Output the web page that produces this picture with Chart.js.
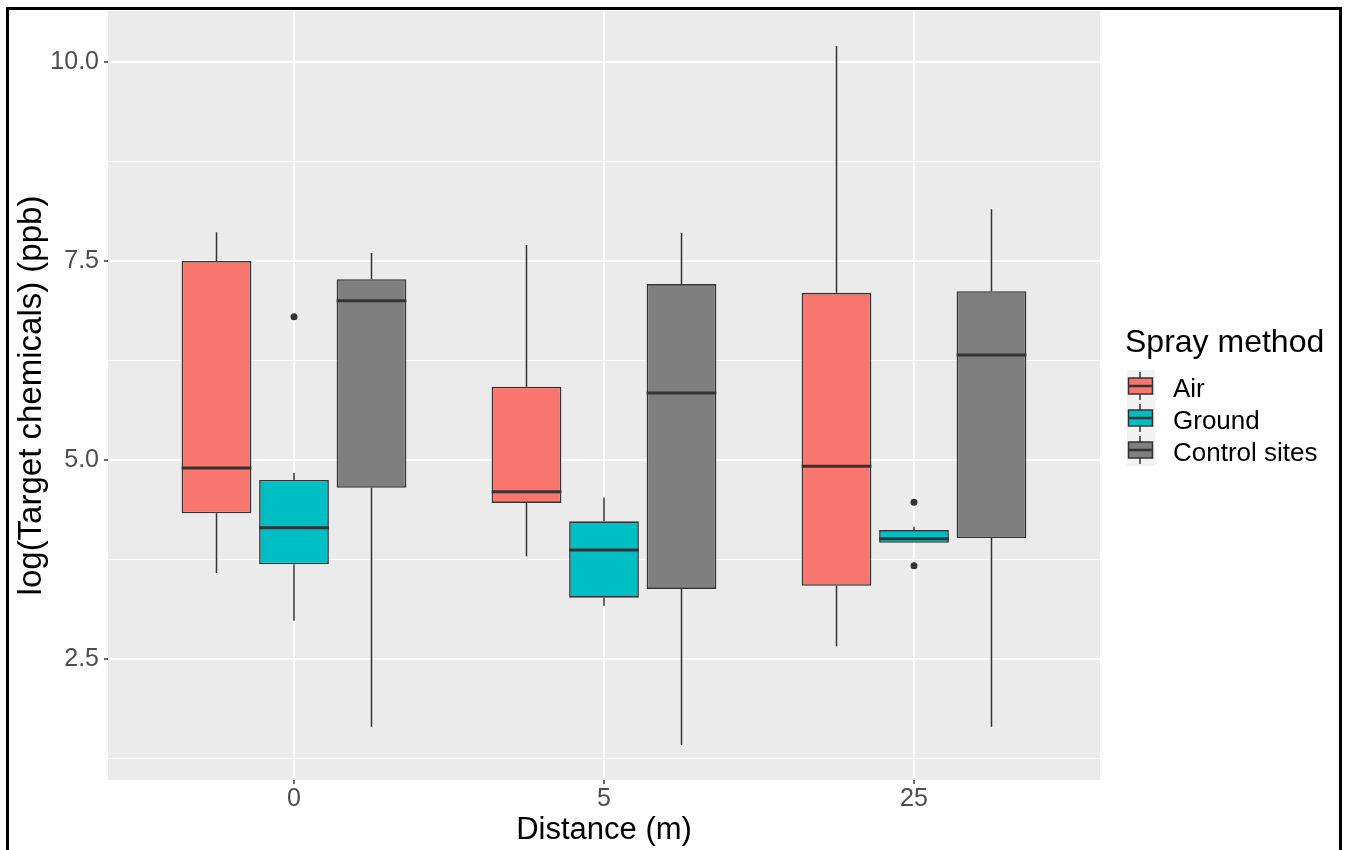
<!DOCTYPE html>
<html>
<head>
<meta charset="utf-8">
<script src="https://cdn.jsdelivr.net/npm/chart.js@4/dist/chart.umd.min.js"></script>
<style>
    html, body { margin: 0; padding: 0; background: #ffffff; overflow: hidden; }
    #wrap { position: relative; width: 1346px; height: 850px; }
    #frame { position: absolute; left: 6px; top: 7px; width: 1330px; height: 900px; border: 3px solid #000000; pointer-events: none; }
</style>
</head>
<body>
<div id="wrap">
    <canvas id="spray_box_chart" width="1346" height="850"></canvas>
    <div id="frame"></div>
</div>
<script>
// x categories (distance from spray site)
const distances = ['0', '5', '25'];
const sprayMethods = ['Air', 'Ground', 'Control sites'];
const sprayColors = ['#F8766D', '#00BFC4', '#7F7F7F'];

// box stats per distance: [lower whisker, Q1, median, Q3, upper whisker]
const airStats = [
    [3.58, 4.33, 4.90, 7.50, 7.86],
    [3.79, 4.46, 4.60, 5.92, 7.70],
    [2.66, 3.42, 4.92, 7.10, 10.20]
];
const groundStats = [
    [2.98, 3.69, 4.15, 4.75, 4.84],
    [3.17, 3.27, 3.87, 4.23, 4.53],
    [3.96, 3.96, 4.01, 4.12, 4.16]
];
const controlStats = [
    [1.65, 4.65, 7.00, 7.27, 7.60],
    [1.42, 3.38, 5.84, 7.21, 7.85],
    [1.65, 4.02, 6.32, 7.12, 8.15]
];
// outliers of the Ground boxes, per distance
const groundOutliers = [[6.80], [], [4.47, 3.67]];

// y axis ticks
const yMajorTicks = [2.5, 5.0, 7.5, 10.0];
const yMinorTicks = [1.25, 3.75, 6.25, 8.75];

const allStats = [airStats, groundStats, controlStats];
const FONT = '"Liberation Sans", Arial, Helvetica, sans-serif';
const LINE = '#333333';

function fnBoxDatasets() {
    return sprayMethods.map((name, i) => ({
        type: 'bar',
        label: name,
        data: allStats[i].map((s, j) => ({ x: j + 1, y: [s[1], s[3]] })),
        backgroundColor: sprayColors[i],
        borderColor: LINE,
        borderWidth: 1.6,
        borderSkipped: false,
        categoryPercentage: 0.75,
        barPercentage: 0.9,
        order: 1
    }));
}

function fnOutlierDataset() {
    const pts = [];
    groundOutliers.forEach((list, j) => list.forEach(v => pts.push({ x: j + 1, y: v })));
    return {
        type: 'scatter',
        label: 'outliers',
        data: pts,
        pointRadius: 3.5,
        pointBackgroundColor: LINE,
        pointBorderWidth: 0,
        order: 0
    };
}

// whiskers + medians, drawn from the bar elements and the y scale
const boxPlugin = {
    id: 'boxParts',
    beforeDraw(chart) {
        const a = chart.chartArea, ctx = chart.ctx;
        ctx.save();
        ctx.fillStyle = '#EBEBEB';
        ctx.fillRect(a.left, a.top, a.right - a.left, a.bottom - a.top);
        ctx.restore();
    },
    beforeDatasetsDraw(chart) {
        const ctx = chart.ctx, y = chart.scales.y;
        ctx.save();
        ctx.strokeStyle = LINE;
        ctx.lineWidth = 1.5;
        allStats.forEach((stats, i) => {
            chart.getDatasetMeta(i).data.forEach((el, j) => {
                const s = stats[j];
                ctx.beginPath();
                ctx.moveTo(el.x, y.getPixelForValue(s[0]));
                ctx.lineTo(el.x, y.getPixelForValue(s[1]));
                ctx.moveTo(el.x, y.getPixelForValue(s[3]));
                ctx.lineTo(el.x, y.getPixelForValue(s[4]));
                ctx.stroke();
            });
        });
        ctx.restore();
    },
    afterDatasetsDraw(chart) {
        const ctx = chart.ctx, y = chart.scales.y;
        ctx.save();
        ctx.strokeStyle = LINE;
        ctx.lineWidth = 3;
        allStats.forEach((stats, i) => {
            chart.getDatasetMeta(i).data.forEach((el, j) => {
                const py = y.getPixelForValue(stats[j][2]);
                ctx.beginPath();
                ctx.moveTo(el.x - el.width / 2, py);
                ctx.lineTo(el.x + el.width / 2, py);
                ctx.stroke();
            });
        });
        ctx.restore();
    },
    afterDraw(chart) {
        // ggplot style legend on the right
        const ctx = chart.ctx;
        ctx.save();
        ctx.fillStyle = '#000000';
        ctx.textAlign = 'left';
        ctx.textBaseline = 'alphabetic';
        ctx.font = '32px ' + FONT;
        ctx.fillText('Spray method', 1125, 352);
        sprayMethods.forEach((name, i) => {
            const cy = 386 + i * 32;
            const kx = 1127, cx = kx + 13;
            ctx.fillStyle = '#F2F2F2';
            ctx.fillRect(kx, cy - 16, 28, 32);
            ctx.strokeStyle = LINE;
            ctx.lineWidth = 1.5;
            ctx.beginPath();
            ctx.moveTo(cx, cy - 14); ctx.lineTo(cx, cy - 8);
            ctx.moveTo(cx, cy + 8); ctx.lineTo(cx, cy + 14);
            ctx.stroke();
            ctx.fillStyle = sprayColors[i];
            ctx.fillRect(kx + 1.5, cy - 8, 24, 16);
            ctx.strokeRect(kx + 1.5, cy - 8, 24, 16);
            ctx.lineWidth = 2.5;
            ctx.beginPath();
            ctx.moveTo(kx + 1.5, cy); ctx.lineTo(kx + 25.5, cy);
            ctx.stroke();
            ctx.fillStyle = '#000000';
            ctx.font = '26px ' + FONT;
            ctx.fillText(name, 1173, cy + 11);
        });
        ctx.restore();
    }
};

function fnSprayChart() {
    const ctx = document.getElementById('spray_box_chart').getContext('2d');
    new Chart(ctx, {
        type: 'bar',
        data: {
            datasets: [...fnBoxDatasets(), fnOutlierDataset()]
        },
        options: {
            responsive: false,
            animation: false,
            layout: { padding: { top: 11, right: 246, bottom: 0, left: 0 } },
            scales: {
                x: {
                    type: 'linear',
                    min: 0.4,
                    max: 3.6,
                    offset: false,
                    afterBuildTicks: axis => { axis.ticks = distances.map((d, j) => ({ value: j + 1 })); },
                    afterFit: axis => { axis.height = 70; axis.paddingLeft = 0; axis.paddingRight = 0; },
                    ticks: {
                        callback: v => distances[v - 1] ?? '',
                        color: '#4D4D4D',
                        font: { family: FONT, size: 25 },
                        padding: 0,
                        maxRotation: 0
                    },
                    grid: {
                        offset: false,
                        color: '#FFFFFF',
                        lineWidth: 2,
                        tickLength: 4,
                        tickColor: LINE,
                        tickWidth: 1.5
                    },
                    border: { display: false },
                    title: {
                        display: true,
                        text: 'Distance (m)',
                        color: '#000000',
                        font: { family: FONT, size: 31 },
                        padding: { top: 0, bottom: 1 }
                    }
                },
                y: {
                    min: 0.98,
                    max: 10.64,
                    afterBuildTicks: axis => {
                        axis.ticks = [...yMinorTicks, ...yMajorTicks].sort((a, b) => a - b).map(v => ({ value: v }));
                    },
                    afterFit: axis => { axis.width = 108; axis.paddingTop = 0; axis.paddingBottom = 0; },
                    ticks: {
                        callback: v => yMajorTicks.includes(v) ? v.toFixed(1) : '',
                        color: '#4D4D4D',
                        font: { family: FONT, size: 25 },
                        padding: 5
                    },
                    grid: {
                        color: '#FFFFFF',
                        lineWidth: c => yMajorTicks.includes(c.tick.value) ? 2 : 1,
                        tickLength: 4,
                        tickColor: c => yMajorTicks.includes(c.tick.value) ? LINE : 'rgba(0,0,0,0)',
                        tickWidth: 1.5
                    },
                    border: { display: false },
                    title: {
                        display: true,
                        text: 'log(Target chemicals) (ppb)',
                        color: '#000000',
                        font: { family: FONT, size: 33 },
                        padding: { top: 12, bottom: 0 }
                    }
                }
            },
            plugins: {
                legend: { display: false },
                tooltip: { enabled: false }
            }
        },
        plugins: [boxPlugin]
    });
}

fnSprayChart();
</script>
</body>
</html>
